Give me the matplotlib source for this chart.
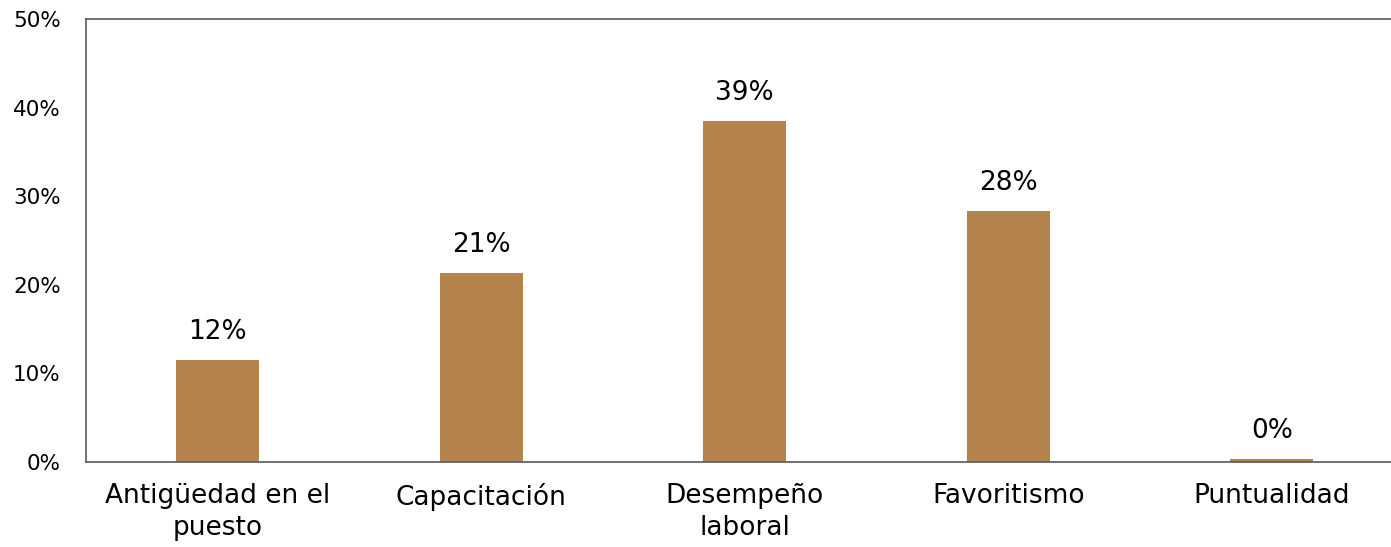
import numpy as np
import matplotlib
matplotlib.use('Agg')
import matplotlib.pyplot as plt

categories = ['Antigüedad en el\npuesto', 'Capacitación', 'Desempeño\nlaboral', 'Favoritismo', 'Puntualidad']
values = [11.5, 21.3, 38.5, 28.3, 0.35]
value_labels = ['12%', '21%', '39%', '28%', '0%']
yticks = [0, 10, 20, 30, 40, 50]

plt.rcParams['font.family'] = ['DejaVu Sans']

fig = plt.figure(figsize=(13.91, 5.47), dpi=100)
ax = fig.add_axes([0.0616, 0.1554, 0.9475, 0.8099])

x = np.arange(len(categories))
ax.bar(x, values, width=0.315, color='#B5834E', zorder=2)
for xi, v, lab in zip(x, values, value_labels):
    ax.text(xi, v + 1.7, lab, ha='center', va='bottom', fontsize=19, color='black')

ax.set_xlim(-0.5, len(categories) - 0.5)
ax.set_ylim(0, 50)
ax.set_yticks(yticks)
ax.set_yticklabels([str(t) + '%' for t in yticks], fontsize=15.5)
ax.set_xticks(x)
ax.set_xticklabels(categories, fontsize=19, linespacing=1.3)
ax.tick_params(axis='both', length=0)
ax.tick_params(axis='y', pad=18)
ax.tick_params(axis='x', pad=15)

ax.spines['right'].set_visible(False)
for s in ['left', 'top', 'bottom']:
    ax.spines[s].set_color('#595959')
    ax.spines[s].set_linewidth(1.2)

fig.savefig('out.png', dpi=100)
